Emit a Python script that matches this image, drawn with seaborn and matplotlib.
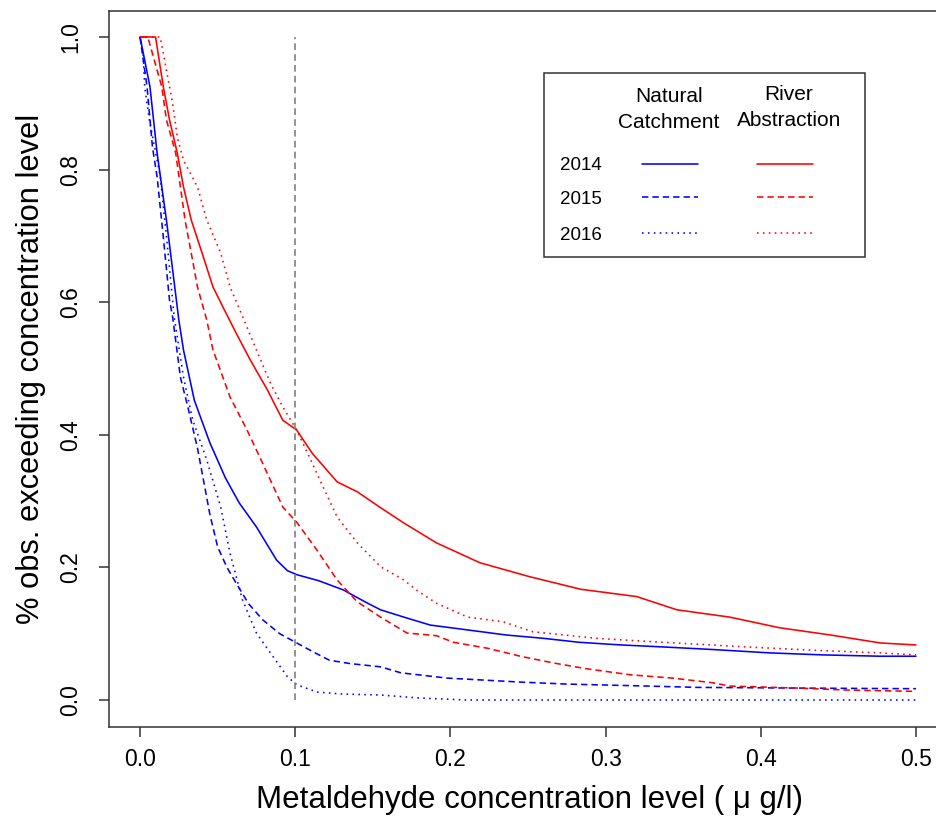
import numpy as np
import pandas as pd
import seaborn as sns
import matplotlib
matplotlib.use("Agg")
import matplotlib.pyplot as plt
from matplotlib.lines import Line2D
from matplotlib.patches import Rectangle

# ---------------- data ----------------
nc2014_x = [0, 0.0064, 0.011, 0.017, 0.021, 0.025, 0.028, 0.035, 0.045, 0.055, 0.064, 0.075,
            0.088, 0.095, 0.101, 0.115, 0.131, 0.145, 0.155, 0.170, 0.187, 0.21, 0.236, 0.26,
            0.283, 0.31, 0.337, 0.37, 0.406, 0.44, 0.477, 0.5]
nc2014_y = [1.0, 0.925, 0.825, 0.724, 0.649, 0.573, 0.528, 0.452, 0.388, 0.335, 0.297, 0.261,
            0.211, 0.195, 0.189, 0.18, 0.166, 0.148, 0.136, 0.125, 0.113, 0.106, 0.098, 0.093,
            0.087, 0.083, 0.080, 0.076, 0.071, 0.068, 0.066, 0.066]

nc2015_x = [0, 0.0045, 0.008, 0.011, 0.015, 0.019, 0.021, 0.026, 0.031, 0.037, 0.041, 0.045,
            0.050, 0.056, 0.062, 0.070, 0.079, 0.090, 0.101, 0.112, 0.122, 0.135, 0.155, 0.168,
            0.198, 0.245, 0.275, 0.327, 0.359, 0.42, 0.5]
nc2015_y = [1.0, 0.925, 0.834, 0.789, 0.698, 0.603, 0.578, 0.487, 0.44, 0.38, 0.33, 0.28,
            0.231, 0.20, 0.176, 0.145, 0.121, 0.10, 0.086, 0.072, 0.060, 0.055, 0.050, 0.041,
            0.033, 0.027, 0.024, 0.021, 0.019, 0.018, 0.017]

nc2016_x = [0, 0.002, 0.003, 0.006, 0.013, 0.017, 0.022, 0.028, 0.034, 0.043, 0.052, 0.058,
            0.066, 0.075, 0.084, 0.095, 0.101, 0.114, 0.13, 0.155, 0.18, 0.21, 0.5]
nc2016_y = [1.0, 0.975, 0.925, 0.875, 0.79, 0.70, 0.578, 0.487, 0.422, 0.362, 0.291, 0.221,
            0.151, 0.101, 0.071, 0.035, 0.023, 0.012, 0.009, 0.0075, 0.003, 0.0, 0.0]

ra2014_x = [0, 0.010, 0.015, 0.019, 0.024, 0.028, 0.033, 0.040, 0.047, 0.054, 0.062, 0.071,
            0.082, 0.092, 0.101, 0.111, 0.127, 0.140, 0.155, 0.170, 0.191, 0.219, 0.251,
            0.284, 0.320, 0.346, 0.380, 0.412, 0.445, 0.477, 0.5]
ra2014_y = [1.0, 1.0, 0.925, 0.875, 0.825, 0.774, 0.724, 0.674, 0.623, 0.59, 0.553, 0.513,
            0.468, 0.422, 0.407, 0.372, 0.329, 0.314, 0.290, 0.267, 0.237, 0.207, 0.186,
            0.167, 0.156, 0.136, 0.125, 0.109, 0.098, 0.086, 0.083]

ra2015_x = [0, 0.005, 0.008, 0.014, 0.017, 0.023, 0.026, 0.029, 0.033, 0.037, 0.043, 0.047,
            0.058, 0.069, 0.079, 0.092, 0.101, 0.114, 0.127, 0.140, 0.155, 0.172, 0.191,
            0.202, 0.224, 0.245, 0.266, 0.288, 0.316, 0.343, 0.369, 0.380, 0.423, 0.455, 0.5]
ra2015_y = [1.0, 1.0, 0.975, 0.925, 0.875, 0.825, 0.774, 0.724, 0.674, 0.623, 0.573, 0.528,
            0.457, 0.407, 0.357, 0.291, 0.268, 0.226, 0.181, 0.148, 0.125, 0.101, 0.097,
            0.087, 0.078, 0.066, 0.056, 0.047, 0.038, 0.033, 0.026, 0.021, 0.018, 0.015, 0.013]

ra2016_x = [0, 0.013, 0.017, 0.021, 0.024, 0.028, 0.037, 0.043, 0.052, 0.058, 0.064, 0.075,
            0.084, 0.092, 0.101, 0.110, 0.118, 0.127, 0.140, 0.155, 0.170, 0.178, 0.191,
            0.211, 0.234, 0.253, 0.294, 0.337, 0.391, 0.434, 0.477, 0.5]
ra2016_y = [1.0, 1.0, 0.95, 0.90, 0.849, 0.814, 0.774, 0.724, 0.674, 0.623, 0.59, 0.528,
            0.478, 0.442, 0.407, 0.362, 0.321, 0.276, 0.237, 0.201, 0.181, 0.166, 0.146,
            0.125, 0.118, 0.103, 0.093, 0.087, 0.080, 0.075, 0.071, 0.068]

sites = ["Natural Catchment", "River Abstraction"]
years = ["2014", "2015", "2016"]
x_ticks = [0.0, 0.1, 0.2, 0.3, 0.4, 0.5]
x_tick_labels = ["0.0", "0.1", "0.2", "0.3", "0.4", "0.5"]
y_ticks = [0.0, 0.2, 0.4, 0.6, 0.8, 1.0]
y_tick_labels = ["0.0", "0.2", "0.4", "0.6", "0.8", "1.0"]
threshold = 0.1

series = {
    ("Natural Catchment", "2014"): (nc2014_x, nc2014_y),
    ("Natural Catchment", "2015"): (nc2015_x, nc2015_y),
    ("Natural Catchment", "2016"): (nc2016_x, nc2016_y),
    ("River Abstraction", "2014"): (ra2014_x, ra2014_y),
    ("River Abstraction", "2015"): (ra2015_x, ra2015_y),
    ("River Abstraction", "2016"): (ra2016_x, ra2016_y),
}
frames = []
for (site, yr), (xs, ys) in series.items():
    frames.append(pd.DataFrame({"conc": xs, "frac": ys, "site": site, "year": yr}))
df = pd.concat(frames, ignore_index=True)

# ---------------- styling ----------------
sns.set_theme(style="white")
plt.rcParams["font.family"] = ["Liberation Sans", "DejaVu Sans"]
plt.rcParams["text.color"] = "black"
plt.rcParams["axes.labelcolor"] = "black"
plt.rcParams["xtick.color"] = "black"
plt.rcParams["ytick.color"] = "black"

palette = {"Natural Catchment": "#0000FF", "River Abstraction": "#FF0000"}
dashes = {"2014": "", "2015": (4, 2.5), "2016": (1, 2.7)}
LW = 1.15

W, H = 936, 817
fig = plt.figure(figsize=(W / 100, H / 100), dpi=100)
ax = fig.add_axes([109 / W, (H - 726.5) / H, 838 / W, 716 / H])

for (site, yr) in series:
    sub = df[(df.site == site) & (df.year == yr)]
    sns.lineplot(data=sub, x="conc", y="frac", color=palette[site], ax=ax,
                 sort=False, estimator=None, legend=False, linewidth=LW)
    if dashes[yr]:
        ax.lines[-1].set_dashes(dashes[yr])

ax.axvline(threshold, ymin=(0 + 0.04) / 1.08, ymax=(1 + 0.04) / 1.08,
           color="#808080", lw=1.2, dashes=(4, 2.5))

ax.set_xlim(-0.02, 0.52)
ax.set_ylim(-0.04, 1.04)
ax.set_xticks(x_ticks)
ax.set_xticklabels(x_tick_labels, fontsize=16.5)
ax.set_yticks(y_ticks)
ax.set_yticklabels(y_tick_labels, fontsize=16.5, rotation=90, va="center")
ax.tick_params(axis="both", direction="out", length=7.2, width=1.1, color="#333333",
               labelcolor="black", bottom=True, left=True)
ax.tick_params(axis="x", pad=8)
ax.tick_params(axis="y", pad=12)
for s in ax.spines.values():
    s.set_visible(True)
    s.set_color("#333333")
    s.set_linewidth(1.1)

ax.set_xlabel("Metaldehyde concentration level ( \u03bc g/l)", fontsize=22.5, color="black")
ax.set_ylabel("% obs. exceeding concentration level", fontsize=22.2, color="black")
ax.xaxis.set_label_coords((530 - 109) / 838, -(785 - 726.5) / 716)
ax.yaxis.set_label_coords(-(109 - 46) / 838, 0.5)
ax.xaxis.label.set_va("top")

# ---------------- legend (R style, drawn in figure pixels) ----------------
def fx(px):
    return px / W

def fy(py):
    return 1 - py / H

fig.add_artist(Rectangle((fx(544), fy(257)), fx(865) - fx(544), fy(73) - fy(257),
                         transform=fig.transFigure, fill=False, edgecolor="#333333", lw=1.1))
fig.text(fx(669), fy(97), "Natural", ha="center", va="center", fontsize=15)
fig.text(fx(669), fy(123), "Catchment", ha="center", va="center", fontsize=15)
fig.text(fx(789), fy(95), "River", ha="center", va="center", fontsize=15)
fig.text(fx(789), fy(120), "Abstraction", ha="center", va="center", fontsize=15)
row_y = [164, 197, 233]
for yr, ry in zip(years, row_y):
    fig.text(fx(581), fy(ry + 2), yr, ha="center", va="center", fontsize=13.5)
    for site, (x0, x1) in zip(sites, [(642, 698), (757, 813)]):
        ln = Line2D([fx(x0), fx(x1)], [fy(ry), fy(ry)], transform=fig.transFigure,
                    color=palette[site], lw=LW)
        if dashes[yr]:
            ln.set_dashes(dashes[yr])
        fig.add_artist(ln)

fig.savefig("out.png", dpi=100)
